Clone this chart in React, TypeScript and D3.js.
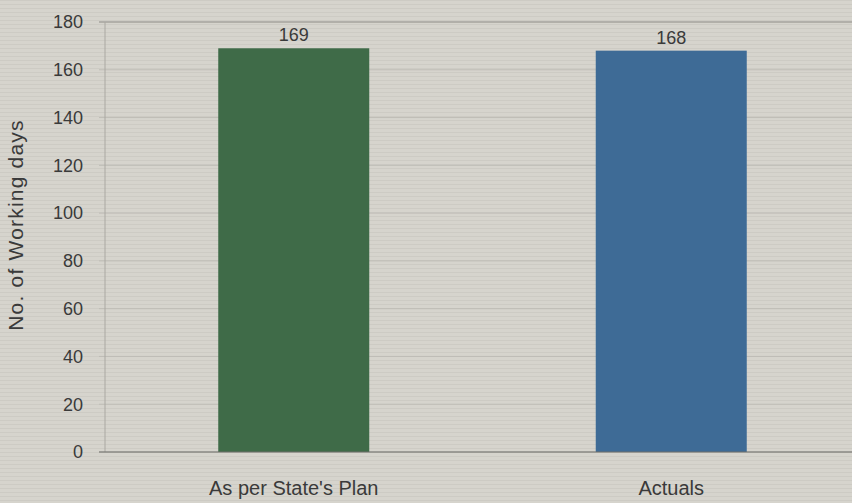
import * as d3 from "d3";

const categories = ["As per State's Plan", "Actuals"];
const values = [169, 168];
const barColors = ["#3f6b48", "#3e6b96"];
const yTicks = [0, 20, 40, 60, 80, 100, 120, 140, 160, 180];
const yLabel = "No. of Working days";

const WIDTH = 852;
const HEIGHT = 503;
const MARGIN = { top: 22, right: -8, bottom: 51, left: 105 };

export default function App() {
  const w = WIDTH - MARGIN.left - MARGIN.right;
  const h = HEIGHT - MARGIN.top - MARGIN.bottom;

  const x = d3.scaleBand<string>().domain(categories).range([0, w]).paddingInner(0.6).paddingOuter(0.3);
  const y = d3.scaleLinear().domain([0, 180]).range([h, 0]);

  const font = "'Liberation Sans', Arial, sans-serif";

  return (
    <svg
      width={WIDTH}
      height={HEIGHT}
      style={{ position: "absolute", left: 0, top: 0, display: "block" }}
    >
      <defs>
        <pattern id="scan" width="4" height="4" patternUnits="userSpaceOnUse">
          <rect width="4" height="4" fill="#d6d4cd" />
          <rect width="4" height="1" fill="#cac8c1" opacity="0.7" />
        </pattern>
      </defs>
      <rect width={WIDTH} height={HEIGHT} fill="url(#scan)" />
      <g transform={`translate(${MARGIN.left},${MARGIN.top})`}>
        {/* grid */}
        {yTicks.map((t) => (
          <line
            key={t}
            x1={-6}
            x2={w}
            y1={y(t)}
            y2={y(t)}
            stroke={t === 180 ? "#8d8b86" : "#bfbdb6"}
            strokeWidth={1}
          />
        ))}
        {/* y axis line */}
        <line x1={0} x2={0} y1={y(180)} y2={h} stroke="#aaa8a2" strokeWidth={1} />
        {/* tick labels */}
        {yTicks.map((t) => (
          <text
            key={"l" + t}
            x={-22}
            y={y(t)}
            dy="0.35em"
            textAnchor="end"
            fontFamily={font}
            fontSize={18}
            fill="#3a3a3a"
          >
            {t}
          </text>
        ))}
        {/* bars */}
        {categories.map((c, i) => (
          <rect
            key={c}
            x={x(c)}
            y={y(values[i])}
            width={x.bandwidth()}
            height={h - y(values[i])}
            fill={barColors[i]}
          />
        ))}
        {/* value labels */}
        {categories.map((c, i) => (
          <text
            key={"v" + c}
            x={(x(c) ?? 0) + x.bandwidth() / 2}
            y={y(values[i]) - 7}
            textAnchor="middle"
            fontFamily={font}
            fontSize={18}
            fill="#3a3a3a"
          >
            {values[i]}
          </text>
        ))}
        {/* x axis */}
        <line x1={-6} x2={w} y1={h} y2={h} stroke="#6f6e6a" strokeWidth={1} />
        {categories.map((c) => (
          <text
            key={"x" + c}
            x={(x(c) ?? 0) + x.bandwidth() / 2}
            y={h + 43}
            textAnchor="middle"
            fontFamily={font}
            fontSize={20}
            fill="#3a3a3a"
          >
            {c}
          </text>
        ))}
        {/* y label */}
        <text
          transform={`translate(${23 - MARGIN.left},${225 - MARGIN.top}) rotate(-90)`}
          textAnchor="middle"
          fontFamily={font}
          fontSize={21}
          letterSpacing={1.2}
          fill="#3a3a3a"
        >
          {yLabel}
        </text>
      </g>
    </svg>
  );
}
